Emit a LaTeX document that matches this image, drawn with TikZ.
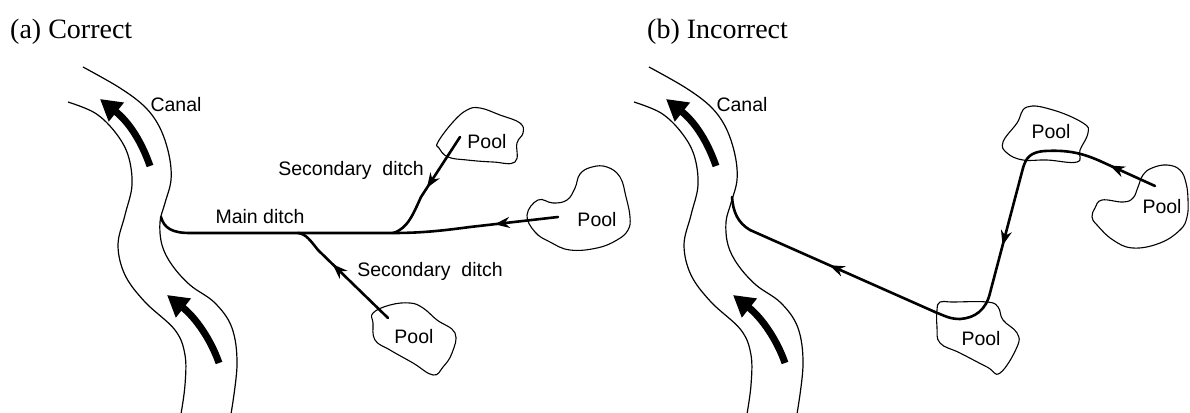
\documentclass[tikz,border=0pt]{standalone}
\usepackage{fontspec}
\setmainfont{Liberation Serif}
\newfontfamily\lblfont{Liberation Sans}
\usetikzlibrary{arrows.meta,decorations.markings}
\tikzset{
  bank/.style={line width=1.2pt},
  flowband/.style={line width=7pt,-{Triangle[length=21pt,width=23pt]}},
  ditch/.style={line width=2.6pt, line cap=round, line join=round},
  poolshape/.style={line width=1.1pt},
  lbl/.style={font=\lblfont\fontsize{19.5}{22}\selectfont, anchor=base, inner sep=0pt},
  ttl/.style={font=\fontsize{28}{31}\selectfont, anchor=base west, inner sep=0pt},
  flowmark/.style={postaction={decorate}, decoration={markings, mark=at position #1 with {\arrow{Stealth[length=15pt,width=11pt]}}}},
  canal/.pic={
    \draw[bank] plot[smooth, tension=0.6] coordinates {(83,67) (120,88) (145,107) (160,128) (169,155) (171,180) (165,203) (160,222) (162,245) (172,265) (190,285) (215,303) (232,328) (237,365) (231,414)};
    \draw[bank] plot[smooth, tension=0.6] coordinates {(68,102) (95,113) (115,132) (128,155) (132,185) (125,215) (118,245) (125,275) (145,302) (175,330) (185,355) (185,385) (181,414)};
    \draw[flowband] (150,166) .. controls (142,143) and (130,123) .. (100,99);
    \draw[flowband] (219,363) .. controls (211,340) and (196,318) .. (167,295);
    \node[lbl] (-canallbl) at (176,111.5) {Canal};
  }
}
\begin{document}
\begin{tikzpicture}[x=1pt,y=-1pt]
\useasboundingbox (0,0) rectangle (1190,412);

% ---------- (a) Correct ----------
\node[ttl] (ta) at (10,39) {(a) Correct};
\pic (ca) at (0,0) {canal};

\draw[poolshape] plot[smooth cycle, tension=0.7] coordinates {(438,142) (453,122) (467,110) (480,108) (500,115) (520,123) (523,133) (517,143) (515,162) (493,162) (467,160) (448,157) (439,148)};
\draw[poolshape] plot[smooth cycle, tension=0.7] coordinates {(527,215) (538,200) (553,203) (567,200) (575,188) (580,174) (592,167) (607,167) (620,177) (626,197) (630,217) (628,230) (617,240) (597,248) (570,250) (550,242) (535,232)};
\draw[poolshape] plot[smooth cycle, tension=0.7] coordinates {(373,313) (390,305) (410,303) (423,308) (437,320) (455,333) (452,353) (443,367) (433,375) (413,363) (390,350) (375,340) (373,323)};

\node[lbl] (pa1) at (487,148) {Pool};
\node[lbl] (pa2) at (597,226) {Pool};
\node[lbl] (pa3) at (414,343) {Pool};
\node[lbl] (md) at (260,223) {Main ditch};
\node[lbl] (sd1) at (351,175) {Secondary\ \ ditch};
\node[lbl] (sd2) at (430,276) {Secondary\ \ ditch};

\coordinate (J1) at (161,217);
\coordinate (PR) at (558,217);
\coordinate (PU) at (460,137);
\coordinate (PL) at (388,318);
\coordinate (M1) at (393,233);
\coordinate (M2) at (298,233);
\coordinate (A1) at (470,227);
\coordinate (B1) at (421,197);
\coordinate (C1) at (318,250);

\draw[ditch, flowmark=0.72] (PR) -- (A1);
\draw[ditch] (A1) .. controls (440,231) and (420,233) .. (M1) -- (190,233) .. controls (172,233) and (164,228) .. (J1);
\draw[ditch, flowmark=0.85] (PU) -- (B1);
\draw[ditch] (B1) .. controls (414,212) and (408,229) .. (M1);
\draw[ditch, flowmark=0.79] (PL) -- (C1);
\draw[ditch] (C1) .. controls (310,240) and (306,234) .. (M2);

% ---------- (b) Incorrect ----------
\node[ttl] (tb) at (647,39) {(b) Incorrect};
\pic (cb) at (566,0) {canal};

\draw[poolshape] plot[smooth cycle, tension=0.7] coordinates {(1003,142) (1017,123) (1027,107) (1053,110) (1083,123) (1088,133) (1080,150) (1077,162) (1047,160) (1023,160) (1007,153)};
\draw[poolshape] plot[smooth cycle, tension=0.7] coordinates {(1095,208) (1102,200) (1123,202) (1133,198) (1138,187) (1143,175) (1152,168) (1167,165) (1180,170) (1186,183) (1188,200) (1187,217) (1180,230) (1160,243) (1133,248) (1113,240) (1097,225) (1092,217)};
\draw[poolshape] plot[smooth cycle, tension=0.7] coordinates {(937,310) (940,302) (953,302) (987,302) (998,307) (1003,320) (1017,333) (1017,347) (1000,373) (987,367) (960,353) (940,343) (937,327)};

\node[lbl] (pb1) at (1051,138) {Pool};
\node[lbl] (pb2) at (1162,213) {Pool};
\node[lbl] (pb3) at (981,345) {Pool};

\coordinate (J2) at (732,197);
\coordinate (Q1) at (1155,186);
\coordinate (Q2) at (1100,161);
\coordinate (Q3) at (1023,168);
\coordinate (Q4) at (990,293);
\coordinate (Q5) at (935,312);
\coordinate (Q6) at (750,230);

\draw[ditch, flowmark=0.82] (Q1) -- (Q2);
\draw[ditch] (Q2) .. controls (1080,152) and (1065,150) .. (1045,151) .. controls (1030,152) and (1026,158) .. (Q3);
\draw[ditch, flowmark=0.62] (Q3) -- (Q4);
\draw[ditch] (Q4) .. controls (986,310) and (975,318) .. (960,319) .. controls (950,319) and (945,316) .. (Q5);
\draw[ditch, flowmark=0.57] (Q5) -- (Q6);
\draw[ditch] (Q6) .. controls (738,223) and (733,212) .. (J2);
\end{tikzpicture}
\end{document}
